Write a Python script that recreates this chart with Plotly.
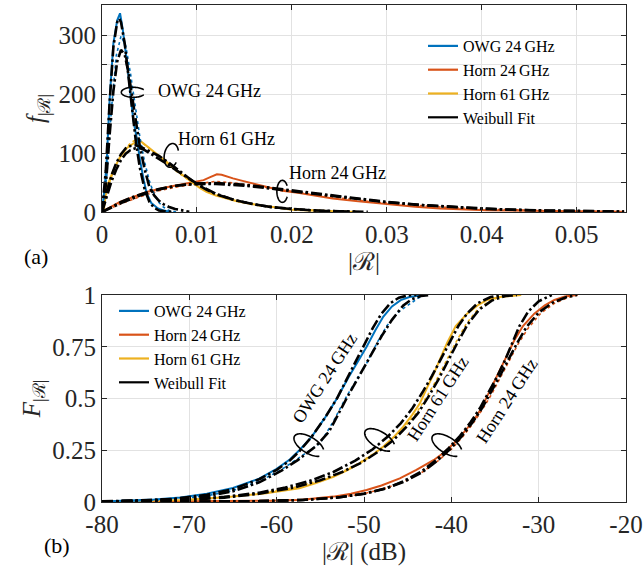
import numpy as np
import plotly.graph_objects as go

# ---------------- data: (a) PDF ----------------
pdf_owg_x = [0, 0.0003, 0.0005, 0.0008, 0.0012, 0.0016, 0.0019, 0.0022, 0.0026, 0.003, 0.0033, 0.0037, 0.004, 0.0044, 0.0047, 0.0052, 0.0059, 0.0066, 0.0073]
pdf_owg_y = [0, 45, 88, 190, 286, 325, 337, 308, 258, 201, 156, 122, 88, 54, 32, 15, 6, 2, 0]
pdf_owg2_x = [0, 0.0005, 0.001, 0.0015, 0.002, 0.0025, 0.003, 0.0035, 0.004, 0.0045, 0.005, 0.0055, 0.006, 0.0065, 0.007, 0.0078]
pdf_owg2_y = [0, 60, 175, 265, 298, 282, 235, 178, 126, 84, 52, 30, 16, 8, 3, 0]
pdf_owg_fit1_x = [0, 0.0004, 0.0008, 0.0012, 0.0016, 0.0018, 0.002, 0.0024, 0.0028, 0.0032, 0.0036, 0.004, 0.0045, 0.005, 0.0055, 0.006, 0.0068, 0.0075]
pdf_owg_fit1_y = [0, 70, 185, 280, 322, 328, 322, 285, 228, 168, 115, 74, 38, 17, 7, 2.5, 0.5, 0]
pdf_owg_fit2_x = [0, 0.0004, 0.0008, 0.0012, 0.0016, 0.002, 0.0024, 0.0028, 0.0032, 0.0036, 0.004, 0.0045, 0.005, 0.0055, 0.006, 0.0065, 0.007, 0.0077, 0.0085, 0.0092]
pdf_owg_fit2_y = [0, 45, 130, 205, 255, 275, 266, 236, 193, 147, 110, 72, 42, 28, 19, 13, 9, 5, 2, 0.5]

pdf_h61_x = [0, 0.0002, 0.0005, 0.0012, 0.0019, 0.0026, 0.0031, 0.0036, 0.004, 0.0044, 0.0049, 0.0054, 0.006, 0.0068, 0.0075, 0.0082, 0.009, 0.0096, 0.0103, 0.011, 0.012, 0.0131, 0.0142, 0.0153, 0.0166, 0.018, 0.019, 0.02, 0.022, 0.0245, 0.027]
pdf_h61_y = [0, 5, 42, 71, 93, 108, 114, 119, 121, 116, 109, 102, 95, 85, 75, 66, 56, 49, 41, 34, 28, 23, 18, 15, 11, 8.5, 6, 4, 2.5, 1, 0]
pdf_h61b_x = [0, 0.0005, 0.001, 0.0015, 0.002, 0.0025, 0.003, 0.0035, 0.004, 0.005, 0.006, 0.007, 0.008, 0.009, 0.010, 0.012, 0.014, 0.016, 0.018, 0.02, 0.023, 0.026]
pdf_h61b_y = [0, 35, 60, 80, 96, 108, 117, 122, 120, 108, 94, 80, 67, 56, 46, 30, 20, 13, 8, 5, 2, 0]
pdf_h61_fit1_x = [0, 0.0005, 0.001, 0.0015, 0.002, 0.0025, 0.003, 0.0035, 0.004, 0.0045, 0.005, 0.006, 0.007, 0.008, 0.009, 0.01, 0.011, 0.012, 0.014, 0.016, 0.018, 0.02, 0.022, 0.025, 0.028]
pdf_h61_fit1_y = [0, 35, 62, 83, 98, 108, 112, 113, 111, 107, 102, 95, 84, 72, 60, 47, 38, 30, 20, 13, 8, 5, 3, 1.2, 0.4]
pdf_h61_fit2_x = [0, 0.0005, 0.001, 0.0015, 0.002, 0.0025, 0.003, 0.0035, 0.004, 0.0045, 0.005, 0.006, 0.007, 0.008, 0.009, 0.01, 0.011, 0.012, 0.014, 0.016, 0.018, 0.02, 0.023, 0.027]
pdf_h61_fit2_y = [0, 28, 52, 72, 88, 99, 105, 108, 108, 105, 100, 91, 80, 69, 58, 48, 39, 31, 20, 13, 8, 5, 2, 0.5]

pdf_h24_x = [0, 0.0005, 0.0019, 0.0033, 0.0047, 0.0068, 0.0089, 0.0100, 0.0107, 0.0114, 0.0121, 0.0126, 0.0131, 0.0138, 0.0145, 0.0155, 0.0166, 0.018, 0.019, 0.0208, 0.0222, 0.0243, 0.027, 0.03, 0.033, 0.0356, 0.038, 0.0405, 0.045, 0.05, 0.055]
pdf_h24_y = [0, 5, 17, 25, 34, 42, 48, 51, 54, 59, 64, 63, 60, 57, 54, 50, 45, 40, 36, 32, 28, 23, 18, 13, 9, 6, 4.5, 3, 2, 1, 0.5]
pdf_h24b_x = [0, 0.001, 0.002, 0.004, 0.006, 0.008, 0.01, 0.012, 0.014, 0.016, 0.018, 0.02, 0.022, 0.025, 0.028, 0.032, 0.036, 0.04, 0.045, 0.05, 0.055]
pdf_h24b_y = [0, 7, 14, 26, 36, 43, 48, 52, 49, 45, 40, 35, 30, 24, 18, 12.5, 8, 5, 2.5, 1.2, 0.5]
pdf_h24_fit1_x = [0, 0.001, 0.002, 0.003, 0.004, 0.005, 0.006, 0.007, 0.008, 0.009, 0.01, 0.011, 0.012, 0.013, 0.014, 0.015, 0.016, 0.018, 0.02, 0.022, 0.024, 0.026, 0.028, 0.03, 0.033, 0.036, 0.04, 0.045, 0.05, 0.055]
pdf_h24_fit1_y = [0, 9, 17, 24, 30, 35, 39, 42.5, 45, 46.5, 47.5, 47.8, 47.5, 46.8, 45.8, 44.5, 43, 39.5, 35.5, 31.5, 27.5, 23.5, 20, 16.5, 12.5, 9, 5.5, 3, 1.5, 0.7]
pdf_h24_fit2_x = [0, 0.001, 0.002, 0.004, 0.006, 0.008, 0.01, 0.012, 0.014, 0.016, 0.018, 0.02, 0.023, 0.026, 0.03, 0.034, 0.038, 0.042, 0.047, 0.052, 0.055]
pdf_h24_fit2_y = [0, 8, 15, 28, 38, 45, 48.5, 49, 47.5, 44.5, 40.5, 36, 30, 24, 17, 11.5, 7.5, 4.5, 2.2, 1, 0.6]

# ---------------- data: (b) CDF in dB ----------------
cdf_owg_x = [-80, -77, -74, -71, -68, -65, -62, -60, -58.5, -57.4, -56, -54.5, -53.1, -51.8, -50.7, -49.7, -48.7, -47.8, -46.8, -45.8, -44.8, -43.8, -43.2]
cdf_owg_y = [0.003, 0.006, 0.012, 0.022, 0.04, 0.068, 0.113, 0.16, 0.205, 0.25, 0.315, 0.405, 0.5, 0.6, 0.68, 0.75, 0.83, 0.895, 0.945, 0.975, 0.99, 0.998, 1.0]
cdf_owg2_x = [-80, -76, -72, -68, -65, -62, -59.5, -57.5, -56, -55, -53.5, -52, -50.8, -49.7, -48.5, -47.4, -46, -44.7, -43.8, -43]
cdf_owg2_y = [0.002, 0.005, 0.012, 0.03, 0.055, 0.1, 0.155, 0.21, 0.255, 0.285, 0.39, 0.51, 0.59, 0.67, 0.77, 0.85, 0.92, 0.96, 0.985, 1.0]
cdf_owg_fit1_x = [-80, -76, -72, -68, -65, -62, -60, -58.5, -57.4, -56, -54.5, -53.1, -51.9, -50.9, -50, -49, -48, -47, -46, -45, -44]
cdf_owg_fit1_y = [0.002, 0.006, 0.014, 0.035, 0.062, 0.11, 0.155, 0.2, 0.245, 0.315, 0.405, 0.5, 0.6, 0.685, 0.76, 0.84, 0.91, 0.96, 0.987, 0.998, 1.0]
cdf_owg_fit2_x = [-80, -76, -72, -68, -65, -62, -59.5, -57.5, -55.5, -54, -52, -50.5, -49.2, -48, -46.8, -45.5, -44.5, -43.5, -42.5]
cdf_owg_fit2_y = [0.002, 0.005, 0.012, 0.028, 0.052, 0.095, 0.15, 0.205, 0.27, 0.34, 0.5, 0.61, 0.71, 0.8, 0.88, 0.95, 0.98, 0.995, 1.0]

cdf_h61_x = [-80, -76.5, -73, -70.8, -68, -65, -61.2, -57.4, -55.5, -53.5, -52, -50.5, -49, -47.8, -46.5, -45.5, -44.5, -43.6, -42.8, -42, -41.2, -40.5, -39.5, -38.2, -37, -35.9, -34.5, -33, -32]
cdf_h61_y = [0.002, 0.005, 0.008, 0.01, 0.017, 0.026, 0.042, 0.066, 0.092, 0.122, 0.152, 0.187, 0.228, 0.267, 0.318, 0.364, 0.42, 0.477, 0.55, 0.62, 0.7, 0.767, 0.85, 0.91, 0.95, 0.976, 0.99, 0.998, 1.0]
cdf_h61b_x = [-80, -75, -70, -66, -62, -58, -55, -52.5, -50.5, -48.5, -46.8, -45.3, -44, -42.8, -41.7, -40.6, -39.5, -38.3, -37, -35.5, -34, -32.5]
cdf_h61b_y = [0.002, 0.005, 0.011, 0.022, 0.04, 0.07, 0.105, 0.145, 0.19, 0.245, 0.3, 0.365, 0.43, 0.51, 0.59, 0.68, 0.77, 0.86, 0.93, 0.975, 0.995, 1.0]
cdf_h61_fit1_x = [-80, -75, -70, -66, -62, -59, -56, -53.5, -51, -49, -47.3, -45.8, -44.5, -43.3, -42.2, -41.2, -40.2, -39.2, -38.2, -37, -35.5, -34]
cdf_h61_fit1_y = [0.003, 0.007, 0.014, 0.025, 0.045, 0.07, 0.105, 0.145, 0.2, 0.255, 0.315, 0.38, 0.45, 0.53, 0.61, 0.69, 0.77, 0.85, 0.91, 0.96, 0.99, 1.0]
cdf_h61_fit2_x = [-80, -75, -70, -66, -62, -58, -55, -52.5, -50.3, -48.3, -46.6, -45.1, -43.8, -42.6, -41.5, -40.4, -39.3, -38.1, -36.8, -35.3, -33.8, -32.5]
cdf_h61_fit2_y = [0.002, 0.005, 0.011, 0.021, 0.04, 0.07, 0.105, 0.145, 0.19, 0.245, 0.3, 0.365, 0.43, 0.51, 0.59, 0.68, 0.77, 0.86, 0.93, 0.975, 0.995, 1.0]

cdf_h24_x = [-80, -75, -70, -65, -61, -57.4, -55.5, -53.5, -51.5, -49.7, -48, -45.9, -44, -42, -40.8, -39.7, -38.5, -37.4, -36.6, -35.9, -35.1, -34.4, -33.6, -32.8, -31.8, -30.5, -29.3, -28.2, -27, -25.6]
cdf_h24_y = [0.0, 0.001, 0.002, 0.004, 0.006, 0.01, 0.017, 0.026, 0.04, 0.058, 0.08, 0.114, 0.155, 0.203, 0.24, 0.284, 0.34, 0.396, 0.45, 0.51, 0.575, 0.64, 0.71, 0.78, 0.85, 0.91, 0.95, 0.976, 0.993, 1.0]
cdf_h24b_x = [-80, -70, -62, -57, -53, -50, -47.5, -45.3, -43.3, -41.5, -40, -38.7, -37.5, -36.4, -35.4, -34.4, -33.4, -32.4, -31.2, -29.8, -28.2, -26.5, -25.5]
cdf_h24b_y = [0.0, 0.001, 0.004, 0.01, 0.022, 0.04, 0.067, 0.1, 0.145, 0.2, 0.255, 0.315, 0.38, 0.45, 0.52, 0.6, 0.68, 0.76, 0.84, 0.91, 0.96, 0.99, 1.0]
cdf_h24_fit1_x = [-80, -70, -62, -57, -53, -50, -47.5, -45.5, -43.5, -41.8, -40.3, -39, -37.8, -36.7, -35.7, -34.7, -33.8, -33.0, -32.2, -31.2, -30.0, -28.5]
cdf_h24_fit1_y = [0.0, 0.001, 0.004, 0.01, 0.022, 0.04, 0.065, 0.1, 0.145, 0.2, 0.26, 0.32, 0.385, 0.455, 0.53, 0.61, 0.69, 0.77, 0.85, 0.92, 0.97, 1.0]
cdf_h24_fit2_x = [-80, -70, -62, -57, -53, -50, -47.5, -45.3, -43.3, -41.6, -40.1, -38.8, -37.6, -36.5, -35.5, -34.5, -33.5, -32.5, -31.4, -30.0, -28.4, -26.8, -25.6]
cdf_h24_fit2_y = [0.0, 0.001, 0.004, 0.01, 0.022, 0.04, 0.066, 0.1, 0.145, 0.2, 0.257, 0.318, 0.383, 0.452, 0.525, 0.605, 0.685, 0.765, 0.845, 0.915, 0.963, 0.99, 1.0]

series_names = ["OWG 24\u2009GHz", "Horn 24\u2009GHz", "Horn 61\u2009GHz", "Weibull Fit"]
pdf_xticks = [0, 0.01, 0.02, 0.03, 0.04, 0.05]
pdf_xticktext = ["0", "0.01", "0.02", "0.03", "0.04", "0.05"]
pdf_yticks = [0, 50, 100, 150, 200, 250, 300, 350]
pdf_yticktext = ["0", "", "100", "", "200", "", "300", ""]
cdf_xticks = [-80, -70, -60, -50, -40, -30, -20]
cdf_xticktext = ["-80", "-70", "-60", "-50", "-40", "-30", "-20"]
cdf_yticks = [0, 0.25, 0.5, 0.75, 1]
cdf_yticktext = ["0", "0.25", "0.5", "0.75", "1"]

BLUE, ORANGE, YELLOW, BLACK = "#0072BD", "#D95319", "#EDB120", "#000000"
FONT = "Liberation Serif, Times New Roman, serif"
FIT_DASH = "11px,3px,2.5px,3px"

fig = go.Figure()

def data_line(x, y, color, xa, ya, dotted=False):
    fig.add_trace(go.Scatter(x=x, y=y, mode="lines", xaxis=xa, yaxis=ya, showlegend=False,
                             line=dict(color=color, width=1.6 if dotted else 2.0,
                                       dash="dot" if dotted else "solid")))

def fit_line(x, y, xa, ya):
    fig.add_trace(go.Scatter(x=x, y=y, mode="lines", xaxis=xa, yaxis=ya, showlegend=False,
                             line=dict(color=BLACK, width=2.6, dash=FIT_DASH)))

# (a)
data_line(pdf_h24_x, pdf_h24_y, ORANGE, "x", "y")
data_line(pdf_h24b_x, pdf_h24b_y, ORANGE, "x", "y", dotted=True)
data_line(pdf_h61_x, pdf_h61_y, YELLOW, "x", "y")
data_line(pdf_h61b_x, pdf_h61b_y, YELLOW, "x", "y", dotted=True)
data_line(pdf_owg_x, pdf_owg_y, BLUE, "x", "y")
data_line(pdf_owg2_x, pdf_owg2_y, BLUE, "x", "y", dotted=True)
for fx, fy in [(pdf_h24_fit1_x, pdf_h24_fit1_y), (pdf_h24_fit2_x, pdf_h24_fit2_y),
               (pdf_h61_fit1_x, pdf_h61_fit1_y), (pdf_h61_fit2_x, pdf_h61_fit2_y),
               (pdf_owg_fit1_x, pdf_owg_fit1_y), (pdf_owg_fit2_x, pdf_owg_fit2_y)]:
    fit_line(fx, fy, "x", "y")

# (b)
data_line(cdf_h24_x, cdf_h24_y, ORANGE, "x2", "y2")
data_line(cdf_h24b_x, cdf_h24b_y, ORANGE, "x2", "y2", dotted=True)
data_line(cdf_h61_x, cdf_h61_y, YELLOW, "x2", "y2")
data_line(cdf_h61b_x, cdf_h61b_y, YELLOW, "x2", "y2", dotted=True)
data_line(cdf_owg_x, cdf_owg_y, BLUE, "x2", "y2")
data_line(cdf_owg2_x, cdf_owg2_y, BLUE, "x2", "y2", dotted=True)
for fx, fy in [(cdf_h24_fit1_x, cdf_h24_fit1_y), (cdf_h24_fit2_x, cdf_h24_fit2_y),
               (cdf_h61_fit1_x, cdf_h61_fit1_y), (cdf_h61_fit2_x, cdf_h61_fit2_y),
               (cdf_owg_fit1_x, cdf_owg_fit1_y), (cdf_owg_fit2_x, cdf_owg_fit2_y)]:
    fit_line(fx, fy, "x2", "y2")

# legend entries (legend-only samples, solid lines as in the original)
for leg, xa, ya in [("legend", "x", "y"), ("legend2", "x2", "y2")]:
    for name, col in zip(series_names, [BLUE, ORANGE, YELLOW, BLACK]):
        fig.add_trace(go.Scatter(x=[None], y=[None], mode="lines", name=name, legend=leg,
                                 xaxis=xa, yaxis=ya, line=dict(color=col, width=2.2)))

# ---------------- layout ----------------
W, H = 644, 578
ML, MR, MT, MB = 102, 18, 5, 76
plot_w = W - ML - MR
plot_h = H - MT - MB
top_dom = [(502 - 212) / plot_h, 1.0]
bot_dom = [0.0, (502 - 295) / plot_h]
pdf_xr = [0, 0.0552]
pdf_yr = [0, 351]
cdf_xr = [-80, -20]
cdf_yr = [0, 1]

axis_common = dict(showline=True, mirror="ticks", linecolor="#262626", linewidth=1,
                   ticks="inside", ticklen=5, tickcolor="#262626", showgrid=True,
                   gridcolor="#e2e2e2", gridwidth=1, zeroline=False, automargin=False,
                   tickfont=dict(family=FONT, size=25, color="#262626"))
title_font = dict(family=FONT, size=25, color="#262626")
leg_font = dict(family=FONT, size=16, color="#000")

fig.update_layout(
    width=W, height=H, margin=dict(l=ML, r=MR, t=MT, b=MB, autoexpand=False),
    plot_bgcolor="white", paper_bgcolor="white",
    font=dict(family=FONT, color="#262626"),
    xaxis=dict(**axis_common, domain=[0, 1], anchor="y", range=pdf_xr,
               tickvals=pdf_xticks, ticktext=pdf_xticktext,
               title=dict(text="|ℛ|", font=title_font, standoff=0)),
    yaxis=dict(**axis_common, domain=top_dom, anchor="x", range=pdf_yr,
               tickvals=pdf_yticks, ticktext=pdf_yticktext,
               title=dict(text="<i>f</i><sub>|ℛ|</sub>", font=title_font, standoff=6)),
    xaxis2=dict(**axis_common, domain=[0, 1], anchor="y2", range=cdf_xr,
                tickvals=cdf_xticks, ticktext=cdf_xticktext,
                title=dict(text="|ℛ| (dB)", font=title_font, standoff=0)),
    yaxis2=dict(**axis_common, domain=bot_dom, anchor="x2", range=cdf_yr,
                tickvals=cdf_yticks, ticktext=cdf_yticktext,
                title=dict(text="<i>F</i><sub>|ℛ|</sub>", font=title_font, standoff=4)),
    legend=dict(x=(431 - ML - 8) / plot_w, y=(502 - 29) / plot_h, xanchor="left", yanchor="top",
                bgcolor="rgba(0,0,0,0)", font=leg_font, tracegroupgap=0, itemwidth=30),
    legend2=dict(x=(122 - ML - 8) / plot_w, y=(502 - 294) / plot_h, xanchor="left", yanchor="top",
                 bgcolor="rgba(0,0,0,0)", font=leg_font, tracegroupgap=0, itemwidth=30),
)

# ---------------- annotations: grouping ellipses and labels ----------------
def ellipse_path(cx, cy, a_px, b_px, ang_deg, sx, sy, t0=30, t1=330):
    t = np.radians(np.linspace(t0, t1, 60))
    ex, ey = a_px * np.cos(t), b_px * np.sin(t)
    r = np.radians(ang_deg)
    px = ex * np.cos(r) - ey * np.sin(r)
    py = ex * np.sin(r) + ey * np.cos(r)
    xs, ys = cx + px / sx, cy + py / sy
    return "M " + " L ".join(f"{a:.7g},{b:.7g}" for a, b in zip(xs, ys))

sx_top = plot_w / (pdf_xr[1] - pdf_xr[0])
sy_top = (top_dom[1] - top_dom[0]) * plot_h / (pdf_yr[1] - pdf_yr[0])
sx_bot = plot_w / (cdf_xr[1] - cdf_xr[0])
sy_bot = (bot_dom[1] - bot_dom[0]) * plot_h / (cdf_yr[1] - cdf_yr[0])

top_ellipses = [(0.0033, 203, 12, 5, 0), (0.0073, 96, 7, 12, -10), (0.0190, 35, 5.5, 11, 0)]
for cx, cy, a, b, ang in top_ellipses:
    fig.add_shape(type="path", xref="x", yref="y",
                  path=ellipse_path(cx, cy, a, b, ang, sx_top, sy_top),
                  line=dict(color="black", width=1.6))
bot_ellipses = [(-56.3, 0.275), (-48.2, 0.30), (-40.5, 0.275)]
for cx, cy in bot_ellipses:
    fig.add_shape(type="path", xref="x2", yref="y2",
                  path=ellipse_path(cx, cy, 17, 8, -32, sx_bot, sy_bot),
                  line=dict(color="black", width=1.6))

lab_font = dict(family=FONT, size=18, color="#000")
top_labels = [(0.0057, 205, series_names[0]), (0.0078, 123, series_names[2]), (0.0195, 66, series_names[1])]
for x, y, t in top_labels:
    fig.add_annotation(x=x, y=y, xref="x", yref="y", text=t, showarrow=False,
                       xanchor="left", yanchor="middle", font=lab_font)
bot_labels = [(-54.5, 0.60, series_names[0]), (-41.6, 0.50, series_names[2]), (-33.7, 0.49, series_names[1])]
for x, y, t in bot_labels:
    fig.add_annotation(x=x, y=y, xref="x2", yref="y2", text=t, showarrow=False, textangle=-57,
                       xanchor="center", yanchor="middle", font=lab_font)

panel_font = dict(family=FONT, size=22, color="#000")
fig.add_annotation(x=(36 - ML) / plot_w, y=(502 - 256) / plot_h, xref="paper", yref="paper",
                   text="(a)", showarrow=False, xanchor="center", yanchor="middle", font=panel_font)
fig.add_annotation(x=(57 - ML) / plot_w, y=(502 - 545) / plot_h, xref="paper", yref="paper",
                   text="(b)", showarrow=False, xanchor="center", yanchor="middle", font=panel_font)

fig.write_html("out.html", config={"displayModeBar": False},
               post_script="document.body.style.margin='0px';")
